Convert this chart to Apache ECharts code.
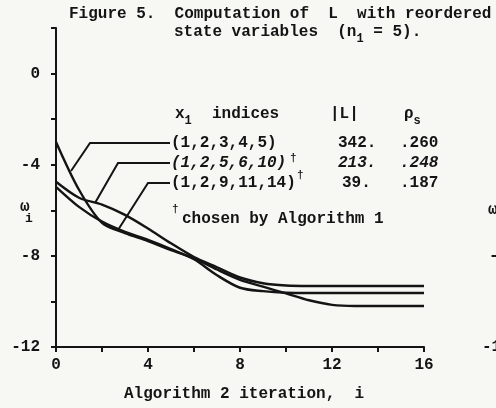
<html>
  <head>
    <meta charset="utf-8">
    <style>
      html, body { margin: 0; padding: 0; background: #f7f7f4; }
      #fig { width: 496px; height: 408px; }
    </style>
  </head>
  <body>
    <div id="fig"></div>
  </body>
  <script src="https://cdn.jsdelivr.net/npm/echarts@6/dist/echarts.min.js"></script>
  <script>

// iteration numbers along the x axis
var iterations = [0, 1, 2, 3, 4, 5, 6, 7, 8, 9, 10, 11, 12, 13, 14, 15, 16];

// omega_i, one list per reordering
var omega_12345 = [-3.0, -5.1, -6.55, -7.0, -7.35, -7.75, -8.1, -8.6, -9.05, -9.35, -9.65, -9.95, -10.15, -10.2, -10.2, -10.2, -10.2];
var omega_125610 = [-4.75, -5.45, -5.75, -6.2, -6.8, -7.45, -8.05, -8.5, -8.95, -9.2, -9.3, -9.32, -9.32, -9.32, -9.32, -9.32, -9.32];
var omega_1291114 = [-4.97, -5.85, -6.5, -6.95, -7.3, -7.7, -8.15, -8.85, -9.4, -9.55, -9.62, -9.63, -9.63, -9.63, -9.63, -9.63, -9.63];

var xTicks = [0, 4, 8, 12, 16];
var yTicks = [0, -4, -8, -12];

var FONT = '"Liberation Mono", "DejaVu Sans Mono", monospace';
var INK = '#141414';

function pairs(vals) {
  var out = [];
  for (var i = 0; i < iterations.length; i++) {
    out.push([iterations[i], vals[i]]);
  }
  return out;
}

function curve(name, vals) {
  return {
    name: name,
    type: 'line',
    data: pairs(vals),
    showSymbol: false,
    smooth: 0.3,
    lineStyle: { color: INK, width: 2.4 },
    silent: true
  };
}

function label(x, y, text, extra) {
  var st = {
    text: text,
    font: 'bold 16px ' + FONT,
    fill: INK,
    textVerticalAlign: 'middle'
  };
  for (var k in (extra || {})) st[k] = extra[k];
  return { type: 'text', x: x, y: y, style: st, silent: true };
}

function leader(points) {
  return {
    type: 'polyline',
    shape: { points: points },
    style: { stroke: INK, lineWidth: 2, fill: null },
    silent: true
  };
}

var sub = {
  s: { font: 'bold 12px ' + FONT, fill: INK, padding: [14, 0, 0, 0] }
};

var option = {
  backgroundColor: '#f7f7f4',
  animation: false,
  grid: { left: 56, right: 72, top: 28, bottom: 61 },
  xAxis: {
    type: 'value',
    min: 0,
    max: 16,
    interval: 2,
    splitLine: { show: false },
    axisLine: { onZero: false, lineStyle: { color: INK, width: 2 } },
    axisTick: { lineStyle: { color: INK, width: 2 }, length: 5 },
    axisLabel: {
      margin: 10,
      color: INK,
      fontFamily: FONT,
      fontWeight: 'bold',
      fontSize: 16,
      formatter: function (v) { return xTicks.indexOf(v) >= 0 ? String(v) : ''; }
    }
  },
  yAxis: {
    type: 'value',
    min: -12,
    max: 2,
    interval: 2,
    splitLine: { show: false },
    axisLine: { onZero: false, lineStyle: { color: INK, width: 2 } },
    axisTick: { lineStyle: { color: INK, width: 2 }, length: 5 },
    axisLabel: {
      margin: 16,
      color: INK,
      fontFamily: FONT,
      fontWeight: 'bold',
      fontSize: 16,
      formatter: function (v) { return yTicks.indexOf(v) >= 0 ? String(v) : ''; }
    }
  },
  series: [
    curve('(1,2,3,4,5)', omega_12345),
    curve('(1,2,5,6,10)', omega_125610),
    curve('(1,2,9,11,14)', omega_1291114)
  ],
  graphic: [
    // caption
    label(69, 14, 'Figure 5.  Computation of  L  with reordered'),
    label(174, 32, 'state variables  (n{s|1} = 5).', { rich: sub }),
    // table header
    label(175, 114, 'x{s|1}', { rich: sub }),
    label(212, 114, 'indices'),
    label(330, 114, '|L|'),
    label(404, 114, '\u03c1{s|s}', { rich: sub }),
    // table rows
    label(171, 143, '(1,2,3,4,5)'),
    label(338, 143, '342.'),
    label(400, 143, '.260'),
    label(171, 163, '(1,2,5,6,10)', { font: 'italic bold 16px ' + FONT }),
    label(290, 158, '\u2020', { font: 'bold 11px ' + FONT }),
    label(338, 163, '213.', { font: 'italic bold 16px ' + FONT }),
    label(400, 163, '.248', { font: 'italic bold 16px ' + FONT }),
    label(171, 183, '(1,2,9,11,14)'),
    label(297, 175, '\u2020', { font: 'bold 11px ' + FONT }),
    label(342, 183, '39.'),
    label(400, 183, '.187'),
    label(172, 209, '\u2020', { font: 'bold 11px ' + FONT }),
    label(182, 219, 'chosen by Algorithm 1'),
    // leader lines from the table to the curves
    leader([[170, 143], [90, 143], [71, 171]]),
    leader([[170, 163], [118, 163], [95, 203]]),
    leader([[170, 183], [148, 183], [118, 230]]),
    // axis names
    label(20, 207, '\u03c9'),
    label(25, 219, 'i', { font: 'bold 13px ' + FONT }),
    label(124, 394, 'Algorithm 2 iteration,  i'),
    // bits of the neighbouring figure at the right edge
    label(488, 210, '\u03c9'),
    label(489, 256, '-'),
    label(482, 347, '-1')
  ]
};

var chart = echarts.init(document.getElementById('fig'));
chart.setOption(option);
  </script>
</html>
